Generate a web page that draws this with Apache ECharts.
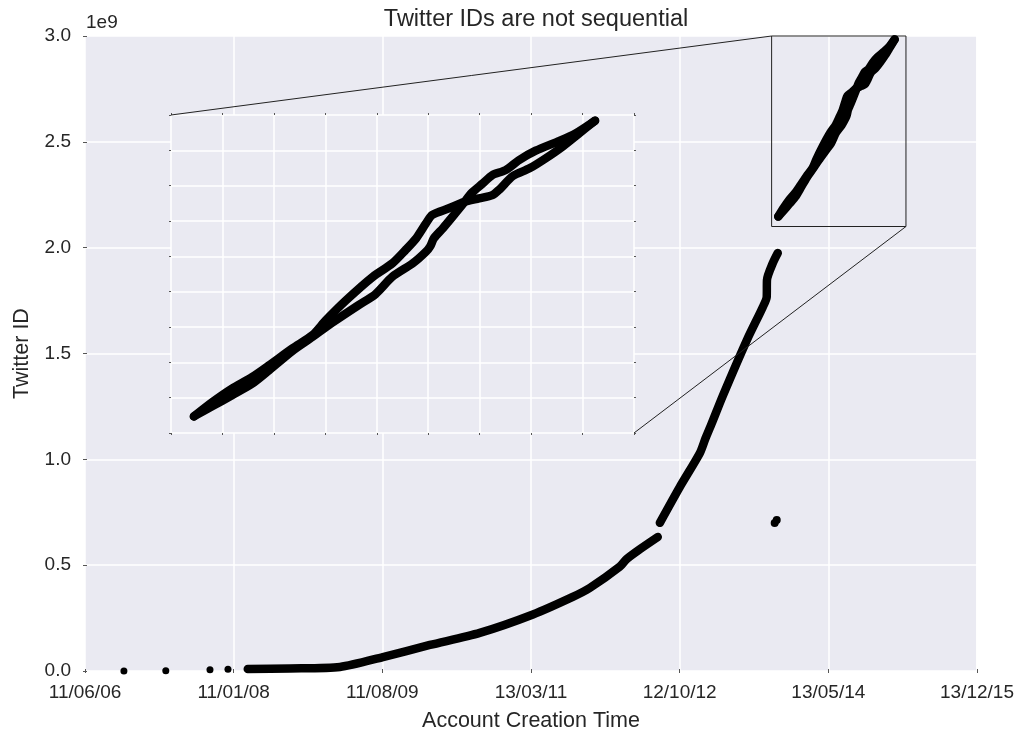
<!DOCTYPE html>
<html>
  <head>
    <meta charset="utf-8" />
    <title>Twitter IDs are not sequential</title>
    <script src="https://cdn.jsdelivr.net/npm/echarts@6/dist/echarts.min.js"></script>
  </head>

  <body style="margin:0;">
    <div id="main" style="width:1026px;height:734px;"></div>
    <script type="text/javascript">
      // early accounts, plotted as loose dots (IDs in units of 1e9)
      const earlyDates = ["2006-11-10", "2007-04-22", "2007-10-11", "2007-12-20"];
      const earlyIds = [0.0002, 0.001, 0.006, 0.008];

      // sequential IDs, up to the jump
      const seqDates = [
        "2008-03-06", "2008-08-17", "2009-02-28", "2009-08-14", "2010-02-13",
        "2010-08-26", "2011-03-21", "2011-08-23", "2011-10-28", "2012-02-22",
        "2012-03-19", "2012-05-10", "2012-07-19",
      ];
      const seqIds = [
        0.010, 0.012, 0.019, 0.066, 0.123, 0.180, 0.267, 0.350, 0.392, 0.493,
        0.528, 0.575, 0.633,
      ];

      // after the jump
      const midDates = [
        "2012-07-27", "2012-10-13", "2012-12-30", "2013-01-21", "2013-02-14",
        "2013-03-29", "2013-07-01", "2013-09-01", "2013-09-16", "2013-09-17",
        "2013-10-10", "2013-10-29",
      ];
      const midIds = [
        0.70, 0.87, 1.03, 1.10, 1.17, 1.300, 1.564, 1.72, 1.767, 1.847, 1.928,
        1.975,
      ];

      // stray accounts near 0.7e9
      const strayDates = ["2013-10-17", "2013-10-25"];
      const strayIds = [0.699, 0.713];

      // last part, two interleaved runs (the zoomed inset)
      const runADates = [
        "2013-10-31", "2013-11-21", "2013-12-13", "2014-01-05", "2014-01-24",
        "2014-02-19", "2014-03-14", "2014-03-29", "2014-04-21", "2014-05-21",
        "2014-06-12", "2014-06-27", "2014-07-09", "2014-07-20", "2014-07-27",
        "2014-08-15", "2014-09-01", "2014-09-18", "2014-10-03", "2014-10-11",
        "2014-10-26", "2014-11-14", "2014-12-02", "2014-12-21", "2015-01-09",
        "2015-01-27",
      ];
      const runAIds = [
        2.147, 2.188, 2.226, 2.259, 2.292, 2.339, 2.377, 2.419, 2.476, 2.542,
        2.580, 2.618, 2.651, 2.693, 2.717, 2.736, 2.754, 2.764, 2.773, 2.789,
        2.827, 2.849, 2.877, 2.910, 2.948, 2.984,
      ];
      const runBDates = [
        "2013-10-31", "2013-11-21", "2013-12-13", "2014-01-05", "2014-01-24",
        "2014-02-19", "2014-03-14", "2014-04-05", "2014-05-05", "2014-05-24",
        "2014-06-12", "2014-07-05", "2014-07-20", "2014-07-25", "2014-07-29",
        "2014-08-08", "2014-08-19", "2014-09-01", "2014-09-09", "2014-09-22",
        "2014-10-03", "2014-10-18", "2014-11-02", "2014-11-21", "2014-12-18",
        "2015-01-05", "2015-01-27",
      ];
      const runBIds = [
        2.147, 2.176, 2.207, 2.240, 2.278, 2.332, 2.372, 2.412, 2.462, 2.493,
        2.542, 2.580, 2.613, 2.629, 2.651, 2.679, 2.712, 2.752, 2.778, 2.806,
        2.830, 2.844, 2.872, 2.899, 2.927, 2.948, 2.984,
      ];

      // x axis is days since base, labels dd/mm/yy
      const base = Date.UTC(2006, 5, 11, 12);
      const xMax = (Date.UTC(2015, 11, 13, 12) - base) / 864e5;
      const yTicks = [0, 0.5, 1.0, 1.5, 2.0, 2.5, 3.0];
      const insetStep = 58.1;
      const insetMin = insetStep * 46;
      const insetMax = insetMin + insetStep * 9;
      const insetYMin = 2.1;
      const insetYMax = 3.0;

      const toDay = d => (Date.parse(d + "T00:00:00Z") - base) / 864e5;
      const pair = (dates, ids) => dates.map((d, i) => [toDay(d), ids[i]]);
      const pad = n => ("0" + n).slice(-2);
      const fmtDate = v => {
        const d = new Date(base + v * 864e5);
        return pad(d.getUTCDate()) + "/" + pad(d.getUTCMonth() + 1) + "/" + pad(d.getUTCFullYear() % 100);
      };

      const font = "Liberation Sans, Arial, sans-serif";
      const ink = "#262626";
      const gridLine = { show: true, lineStyle: { color: "#fff", width: 1.5 } };
      const tinyTick = { show: true, length: 2, lineStyle: { color: "#555" } };
      const thick = {
        type: "line",
        symbol: "none",
        showSymbol: false,
        smooth: 0.25,
        lineStyle: { color: "#000", width: 8.5, cap: "round", join: "round" },
      };
      const mirror = { axisLine: { show: false }, axisTick: tinyTick, axisLabel: { show: false }, splitLine: { show: false } };

      const myChart = echarts.init(document.getElementById("main"));
      const option = {
        animation: false,
        textStyle: { fontFamily: font },
        title: {
          text: "Twitter IDs are not sequential",
          left: 531,
          top: 3,
          textAlign: "center",
          textStyle: { fontFamily: font, fontSize: 23.5, fontWeight: "normal", color: ink },
        },
        graphic: [
          {
            type: "text",
            left: 86,
            top: 13,
            style: { text: "1e9", font: "19px " + font, fill: ink },
          },
        ],
        grid: [
          { left: 85, top: 36, width: 892, height: 635, show: true, backgroundColor: "#EAEAF2", borderWidth: 0, outerBoundsMode: "none" },
          { left: 171, top: 115, width: 463, height: 318, show: true, backgroundColor: "#EAEAF2", borderWidth: 0, z: 5, outerBoundsMode: "none" },
        ],
        xAxis: [
          {
            gridIndex: 0,
            type: "value",
            min: 0,
            max: xMax,
            interval: xMax / 6,
            axisLine: { show: false },
            axisTick: tinyTick,
            splitLine: gridLine,
            axisLabel: { formatter: fmtDate, fontSize: 19, color: ink, margin: 12, showMinLabel: true, showMaxLabel: true },
            name: "Account Creation Time",
            nameLocation: "middle",
            nameGap: 39,
            nameMoveOverlap: false,
            nameTextStyle: { fontSize: 21.5, color: ink },
          },
          Object.assign({ gridIndex: 0, type: "value", position: "top", min: 0, max: xMax, interval: xMax / 6 }, mirror),
          {
            gridIndex: 1,
            type: "value",
            min: insetMin,
            max: insetMax,
            interval: insetStep,
            z: 6,
            axisLine: { show: false },
            axisTick: tinyTick,
            axisLabel: { show: false },
            splitLine: gridLine,
          },
          Object.assign({ gridIndex: 1, type: "value", position: "top", min: insetMin, max: insetMax, interval: insetStep, z: 6 }, mirror),
        ],
        yAxis: [
          {
            gridIndex: 0,
            type: "value",
            min: yTicks[0],
            max: yTicks[yTicks.length - 1],
            interval: 0.5,
            axisLine: { show: false },
            axisTick: tinyTick,
            splitLine: gridLine,
            axisLabel: { formatter: v => v.toFixed(1), fontSize: 19, color: ink, margin: 14, showMinLabel: true, showMaxLabel: true },
            name: "Twitter ID",
            nameLocation: "middle",
            nameGap: 52,
            nameMoveOverlap: false,
            nameTextStyle: { fontSize: 21.5, color: ink },
          },
          Object.assign({ gridIndex: 0, type: "value", position: "right", min: 0, max: 3, interval: 0.5 }, mirror),
          {
            gridIndex: 1,
            type: "value",
            min: insetYMin,
            max: insetYMax,
            interval: 0.1,
            z: 6,
            axisLine: { show: false },
            axisTick: tinyTick,
            axisLabel: { show: false },
            splitLine: gridLine,
          },
          Object.assign({ gridIndex: 1, type: "value", position: "right", min: insetYMin, max: insetYMax, interval: 0.1, z: 6 }, mirror),
        ],
        series: [
          {
            type: "scatter",
            xAxisIndex: 0,
            yAxisIndex: 0,
            symbolSize: 7,
            itemStyle: { color: "#000", opacity: 1 },
            data: pair(earlyDates, earlyIds),
          },
          Object.assign({ xAxisIndex: 0, yAxisIndex: 0, data: pair(seqDates, seqIds) }, thick),
          Object.assign({ xAxisIndex: 0, yAxisIndex: 0, data: pair(midDates, midIds) }, thick),
          {
            type: "scatter",
            xAxisIndex: 0,
            yAxisIndex: 0,
            symbolSize: 8,
            itemStyle: { color: "#000", opacity: 1 },
            data: pair(strayDates, strayIds),
          },
          Object.assign({
            xAxisIndex: 0,
            yAxisIndex: 0,
            data: pair(runADates, runAIds),
            markArea: {
              silent: true,
              itemStyle: { color: "rgba(0,0,0,0)", borderColor: "#222", borderWidth: 1 },
              data: [[{ xAxis: insetMin, yAxis: insetYMin }, { xAxis: insetMax, yAxis: insetYMax }]],
            },
          }, thick),
          Object.assign({ xAxisIndex: 0, yAxisIndex: 0, data: pair(runBDates, runBIds) }, thick),
          Object.assign({ xAxisIndex: 2, yAxisIndex: 2, z: 7, data: pair(runADates, runAIds) }, thick),
          Object.assign({ xAxisIndex: 2, yAxisIndex: 2, z: 7, data: pair(runBDates, runBIds) }, thick),
        ],
      };
      myChart.setOption(option);

      // lines joining the inset to the zoomed box
      const main0 = { xAxisIndex: 0, yAxisIndex: 0 };
      const inset0 = { xAxisIndex: 2, yAxisIndex: 2 };
      const a1 = myChart.convertToPixel(inset0, [insetMin, insetYMax]);
      const b1 = myChart.convertToPixel(main0, [insetMin, insetYMax]);
      const a2 = myChart.convertToPixel(inset0, [insetMax, insetYMin]);
      const b2 = myChart.convertToPixel(main0, [insetMax, insetYMin]);
      const link = (p, q) => ({
        type: "line",
        silent: true,
        z: 10,
        shape: { x1: p[0], y1: p[1], x2: q[0], y2: q[1] },
        style: { stroke: "#222", lineWidth: 1 },
      });
      myChart.setOption({
        graphic: [
          option.graphic[0],
          link(a1, b1),
          link(a2, b2),
        ],
      });
    </script>
  </body>
</html>
